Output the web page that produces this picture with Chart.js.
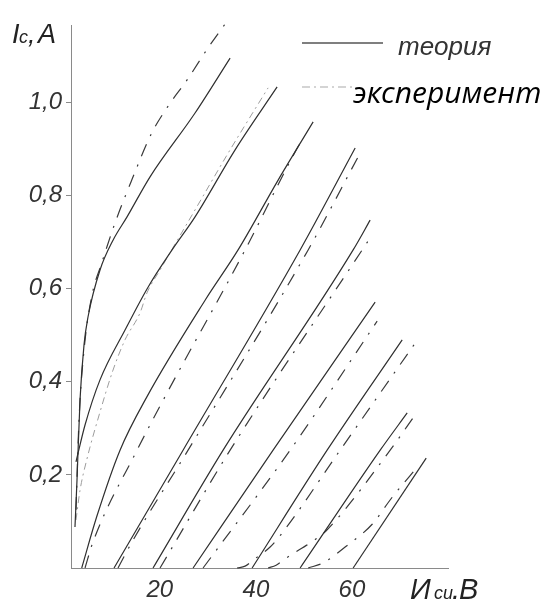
<!DOCTYPE html>
<html>
<head>
<meta charset="utf-8">
<script src="https://cdn.jsdelivr.net/npm/chart.js"></script>
<style>
  html, body { margin: 0; padding: 0; background: #fff; }
  canvas { display: block; }
</style>
</head>
<body>
<canvas id="grafica" width="541" height="603"></canvas>
<script>
// Деления осей
const xTicks = [20, 40, 60];
const yTicks = [0.2, 0.4, 0.6, 0.8, 1.0];

// Теория (сплошные линии): [Иси, Ic]
const teoria1 = [[2.33,0.088],[2.75,0.189],[3.38,0.361],[4.21,0.479],[5.04,0.539],[7.54,0.640],[10.25,0.704],[13.17,0.754],[17.96,0.840],[27.33,0.977],[34.63,1.095]];
const teoria2 = [[2.54,0.228],[4.42,0.307],[7.54,0.404],[12.75,0.511],[17.54,0.603],[22.54,0.683],[27.33,0.754],[35.67,0.898],[44.42,1.033]];
const teoria3 = [[3.73,0],[6.85,0.110],[11.71,0.253],[17.27,0.367],[29.42,0.575],[36.29,0.683],[44.63,0.833],[51.92,0.958]];
const teoria4 = [[10.46,0],[24.83,0.253],[49.21,0.683],[60.67,0.902]];
const teoria5 = [[18.58,0],[33.17,0.253],[60.25,0.683],[63.79,0.747]];
const teoria6 = [[26.92,0],[43.58,0.253],[64.83,0.571]];
const teoria7 = [[39.21,0],[54.83,0.253],[70.46,0.490]];
const teoria8 = [[49.21,0],[65.88,0.253],[71.5,0.333]];
const teoria9 = [[60.25,0],[75.46,0.236]];

// Эксперимент (штрихпунктир)
const eksp1 = [[2.54,0.125],[3.17,0.318],[4.21,0.468],[5.88,0.586],[7.90,0.655],[10.67,0.741],[14.15,0.833],[18.31,0.934],[22.13,0.998],[25.67,1.048],[30.04,1.117],[34.21,1.177]];
const eksp2 = [[2.54,0.103],[3.38,0.167],[4.77,0.232],[7.54,0.335],[10.25,0.425],[12.75,0.490],[15.88,0.548],[17.33,0.591],[20.04,0.640],[27.33,0.769],[34.63,0.898],[42.54,1.031]];
const eksp3 = [[4.42,0],[6.08,0.056],[15.25,0.253],[21.5,0.376],[37.75,0.683],[46.5,0.861],[49.21,0.913]];
const eksp4 = [[11.29,0],[14.42,0.060],[25.88,0.253],[50.88,0.683],[61.29,0.883]];
const eksp5 = [[20.04,0],[34.63,0.253],[62.13,0.683],[63.79,0.709]];
const eksp6 = [[29.0,0],[47.13,0.253],[65.25,0.530]];
const eksp7 = [[36.08,0],[37.75,0.004],[39.42,0.017],[42.96,0.045],[45.46,0.075],[57.54,0.253],[73.17,0.483]];
const eksp8 = [[42.54,0],[44.21,0.006],[45.67,0.017],[49.63,0.043],[52.75,0.064],[54.83,0.082],[67.96,0.253],[72.96,0.326]];
const eksp9 = [[50.88,0],[54.0,0.011],[58.58,0.045],[64.21,0.094],[68.38,0.152],[73.79,0.219]];

const teoriaCurves = [teoria1, teoria2, teoria3, teoria4, teoria5, teoria6, teoria7, teoria8, teoria9];
const ekspCurves = [eksp1, eksp2, eksp3, eksp4, eksp5, eksp6, eksp7, eksp8, eksp9];

const toPoints = arr => arr.map(p => ({ x: p[0], y: p[1] }));

const datasets = [];
teoriaCurves.forEach((c, i) => {
    datasets.push({
        label: 'теория ' + (i + 1),
        data: toPoints(c),
        borderColor: '#2f2f2f',
        borderWidth: 1.2
    });
});
ekspCurves.forEach((c, i) => {
    // вторая экспериментальная кривая светло-серая
    const svetlaya = i === 1;
    datasets.push({
        label: 'эксперимент ' + (i + 1),
        data: toPoints(c),
        borderColor: svetlaya ? '#9c9c9c' : '#3a3a3a',
        borderWidth: svetlaya ? 1 : 1.2,
        borderDash: svetlaya ? [7, 4, 2, 4] : [13, 9, 2, 9]
    });
});

const tickFont = { family: '"Liberation Sans", Arial, sans-serif', size: 24, style: 'italic' };

// Подписи осей и легенда
const podpisi = {
    id: 'podpisi',
    afterDraw(chart) {
        const c = chart.ctx;
        const sans = '"Liberation Sans", Arial, sans-serif';
        c.save();
        c.textAlign = 'left';
        c.textBaseline = 'alphabetic';
        c.fillStyle = '#222';

        // Ic,A
        c.font = 'italic 27px ' + sans;
        c.fillText('I', 12, 43);
        c.font = 'italic 18px ' + sans;
        c.fillText('c', 19, 43);
        c.font = 'italic 27px ' + sans;
        c.fillText(',', 28, 43);
        c.fillText('A', 38, 43);

        // Иси.В
        c.font = 'italic 29px ' + sans;
        c.fillText('И', 410, 599);
        c.font = 'italic 18px ' + sans;
        c.fillText('си', 434, 599);
        c.font = 'italic 29px ' + sans;
        c.fillText('.', 452, 599);
        c.fillText('В', 459, 599);

        // легенда
        c.strokeStyle = '#555';
        c.lineWidth = 1.5;
        c.beginPath();
        c.moveTo(302, 43);
        c.lineTo(383, 43);
        c.stroke();
        c.fillStyle = '#333';
        c.font = 'italic 26px ' + sans;
        c.fillText('теория', 398, 55);

        c.strokeStyle = '#aaa';
        c.lineWidth = 1.2;
        c.setLineDash([8, 4, 2, 4]);
        c.beginPath();
        c.moveTo(302, 87);
        c.lineTo(355, 87);
        c.stroke();
        c.setLineDash([]);
        c.fillStyle = '#000';
        c.font = 'italic 30px "Open Sans", sans-serif';
        c.fillText('эксперимент', 353, 103);
        c.restore();
    }
};

const ctx = document.getElementById('grafica').getContext('2d');
new Chart(ctx, {
    type: 'scatter',
    data: { datasets: datasets },
    options: {
        responsive: false,
        animation: false,
        showLine: true,
        layout: { padding: { left: 0, right: 93, top: 25, bottom: 0 } },
        elements: {
            point: { radius: 0, hoverRadius: 0 },
            line: { cubicInterpolationMode: 'monotone', fill: false }
        },
        datasets: { scatter: { clip: false } },
        plugins: {
            legend: { display: false },
            tooltip: { enabled: false }
        },
        scales: {
            x: {
                type: 'linear',
                min: 1.5,
                max: 80,
                afterBuildTicks: scale => { scale.ticks = xTicks.map(v => ({ value: v })); },
                afterFit: scale => { scale.height = 35; },
                grid: { display: false },
                border: { display: true, color: '#8a8a8a', width: 1 },
                ticks: { font: tickFont, color: '#333', padding: 0, maxRotation: 0 }
            },
            y: {
                type: 'linear',
                min: 0,
                max: 1.166,
                afterBuildTicks: scale => { scale.ticks = yTicks.map(v => ({ value: v })); },
                afterFit: scale => { scale.width = 71; },
                grid: { drawOnChartArea: false, drawTicks: true, tickLength: 5, color: '#8a8a8a' },
                border: { display: true, color: '#8a8a8a', width: 1 },
                ticks: {
                    font: tickFont,
                    color: '#333',
                    padding: 4,
                    callback: v => v.toFixed(1).replace('.', ',')
                }
            }
        }
    },
    plugins: [podpisi]
});
</script>
</body>
</html>
